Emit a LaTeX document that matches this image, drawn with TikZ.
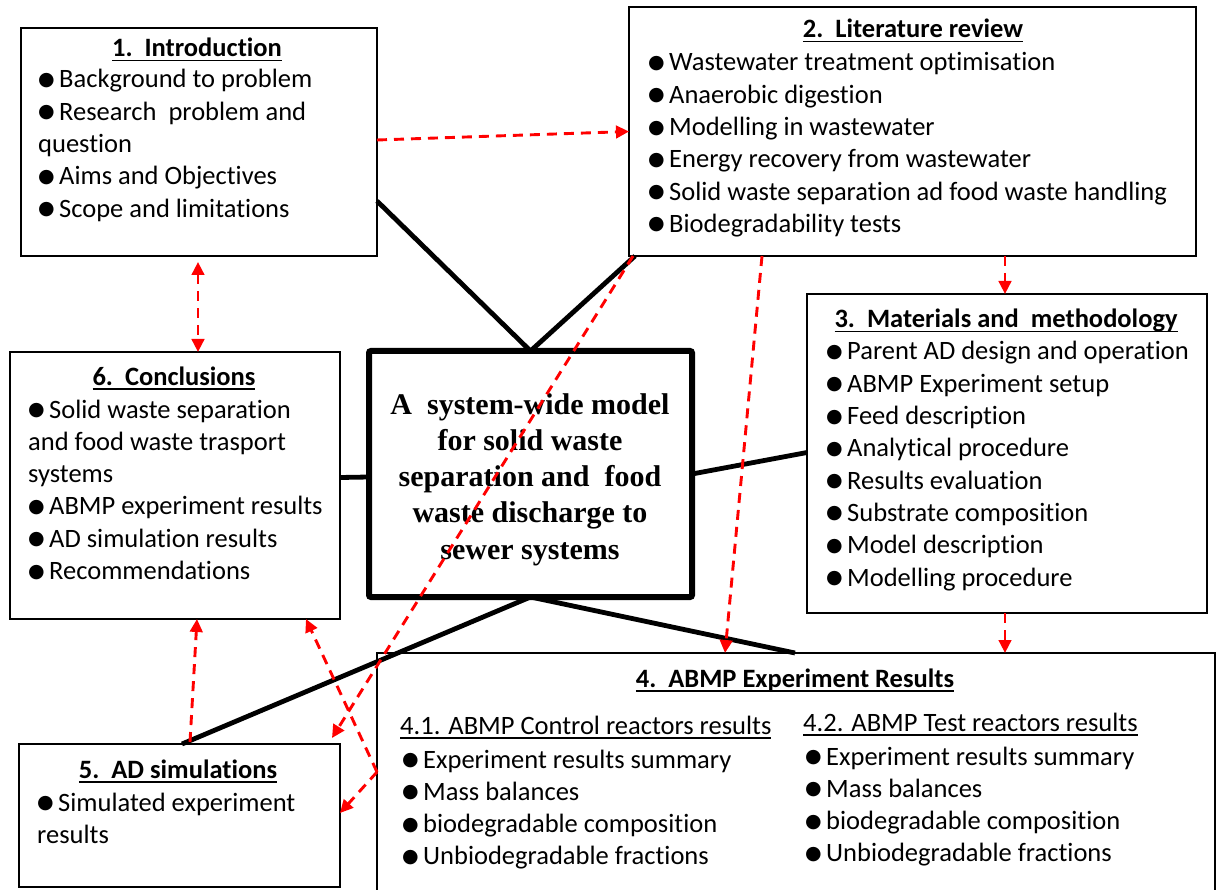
\documentclass[tikz,border=0pt]{standalone}
\usepackage{fontspec}
\setmainfont{Carlito}[Ligatures=NoCommon]
\newfontfamily\serifbf{Liberation Serif}
\newfontfamily\symfont{DejaVu Sans}
\usetikzlibrary{arrows.meta,calc}

% bullet glyph followed by fixed gap
\newcommand\bul{\makebox[21pt][l]{\symfont\fontsize{19}{19}\selectfont\raisebox{2.5pt}{●}}}
% underlined heading
\newcommand\headul[1]{\setbox0\hbox{#1}\rlap{\raisebox{-4.5pt}{\rule{\wd0}{1.6pt}}}\box0}
% stacked lines whose baseline is that of the first line
\newcommand\leftlines[1]{\begin{tabular}[t]{@{}l@{}}#1\end{tabular}}
\newcommand\midlines[1]{\begin{tabular}[t]{@{}c@{}}#1\end{tabular}}

\tikzset{
  box/.style={draw, line width=2pt, inner sep=0pt, outer sep=0pt},
  hub/.style={draw, line width=6pt, rounded corners=2pt, inner sep=0pt, outer sep=0pt},
  hubtext/.style={anchor=base, inner sep=0pt, font=\serifbf\bfseries\fontsize{30}{36.3}\selectfont},
  body/.style={anchor=base west, inner sep=0pt, font=\fontsize{26.5}{32.3}\selectfont},
  head/.style={anchor=base, inner sep=0pt, font=\bfseries\fontsize{26.5}{32.3}\selectfont},
  link/.style={line width=4.8pt},
  flow/.style={draw=red, line width=2.9pt, dash pattern=on 10pt off 7pt,
    -{Triangle[length=13pt,width=12.5pt]}},
  flow2/.style={flow, {Triangle[length=13pt,width=12.5pt]}-{Triangle[length=13pt,width=12.5pt]}}
}

\begin{document}
\begin{tikzpicture}[x=1pt,y=-1pt]
\useasboundingbox (0,0) rectangle (1218,890);

% boxes
\node[box, minimum width=356pt, minimum height=228pt] (b1) at (199,142) {};
\node[box, minimum width=567pt, minimum height=249pt] (b2) at (912.5,131.5) {};
\node[box, minimum width=400pt, minimum height=319pt] (b3) at (1007,453.5) {};
\node[box, minimum width=330pt, minimum height=267pt] (b6) at (175,485.5) {};
\node[box, minimum width=321pt, minimum height=143pt] (b5) at (179.5,815.5) {};
\node[box, minimum width=838pt, minimum height=260pt] (b4) at (796,783) {};
\node[hub, minimum width=323pt, minimum height=246pt] (c) at (530.5,474) {};
\node[hubtext] (ct) at (530,414)
  {\midlines{A\ \ system-wide model\\for solid waste\\separation and\ \ food\\waste discharge to\\sewer systems}};

% box contents
\node[head] (h1) at (197,57) {\headul{1.\ \ Introduction}};
\node[body] (t1) at (38,88) {\leftlines{\bul Background to problem\\\bul Research\ \ problem and\\question\\\bul Aims and Objectives\\\bul Scope and limitations}};

\node[head] (h2) at (913,38) {\headul{2.\ \ Literature review}};
\node[body] (t2) at (648,71) {\leftlines{\bul Wastewater treatment optimisation\\\bul Anaerobic digestion\\\bul Modelling in wastewater\\\bul Energy recovery from wastewater\\\bul Solid waste separation ad food waste handling\\\bul Biodegradability tests}};

\node[head] (h3) at (1006,328) {\headul{3.\ \ Materials and\ \ methodology}};
\node[body] (t3) at (826,360) {\leftlines{\bul Parent AD design and operation\\\bul ABMP Experiment setup\\\bul Feed description\\\bul Analytical procedure\\\bul Results evaluation\\\bul Substrate composition\\\bul Model description\\\bul Modelling procedure}};

\node[head] (h6) at (174,385) {\headul{6.\ \ Conclusions}};
\node[body] (t6) at (28,418) {\leftlines{\bul Solid waste separation\\and food waste trasport\\systems\\\bul ABMP experiment results\\\bul AD simulation results\\\bul Recommendations}};

\node[head] (h5) at (178,778) {\headul{5.\ \ AD simulations}};
\node[body] (t5) at (37,811) {\leftlines{\bul Simulated experiment\\results}};

\node[head] (h4) at (795,687) {\headul{4.\ \ ABMP Experiment Results}};
\node[body] (s41) at (400,734) {\headul{4.1. ABMP Control reactors results}};
\node[body] (t41) at (402,768) {\leftlines{\bul Experiment results summary\\\bul Mass balances\\\bul biodegradable composition\\\bul Unbiodegradable fractions}};
\node[body] (s42) at (803,731) {\headul{4.2. ABMP Test reactors results}};
\node[body] (t42) at (805,765) {\leftlines{\bul Experiment results summary\\\bul Mass balances\\\bul biodegradable composition\\\bul Unbiodegradable fractions}};

% solid links to the central topic
\draw[link] ($(b1.north east)+(0,173)$) -- (c.north);
\draw[link] ($(b2.south west)+(6,0)$) -- (c.north);
\draw[link] ($(b6.east)+(0,-8)$) -- ($(c.west)+(0,3)$);
\draw[link] (c.east) -- ($(b3.west)+(0,-1)$);
\draw[link] (c.south) -- ($(b4.north west)+(418,0)$);
\draw[link] (c.south) -- ($(b5.north west)+(163,0)$);

% dashed flows between chapters
\draw[flow] ($(b1.north east)+(0,112)$) -- (b2.west);
\draw[flow2, shorten <=6pt] ($(b1.south)+(-1,0)$) -- ($(b6.north west)+(188,0)$);
\draw[flow] ($(b5.north west)+(171,-2)$) -- ($(b6.south west)+(187,0)$);
\coordinate (k) at ($(b4.north west)+(0,119)$);
\draw[flow] (k) -- ($(b6.south west)+(296,0)$);
\draw[flow] (k) -- ($(b5.north east)+(0,69)$);
\draw[flow] ($(b2.south west)+(4,0)$) -- ($(b5.north east)+(-8,-6)$);
\draw[flow] ($(b2.south west)+(133,0)$) -- ($(b4.north west)+(348,0)$);
\draw[flow] ($(b2.south west)+(376,0)$) -- ($(b3.north west)+(198,0)$);
\draw[flow] ($(b3.south west)+(198,0)$) -- ($(b4.north west)+(628,0)$);
\end{tikzpicture}
\end{document}
